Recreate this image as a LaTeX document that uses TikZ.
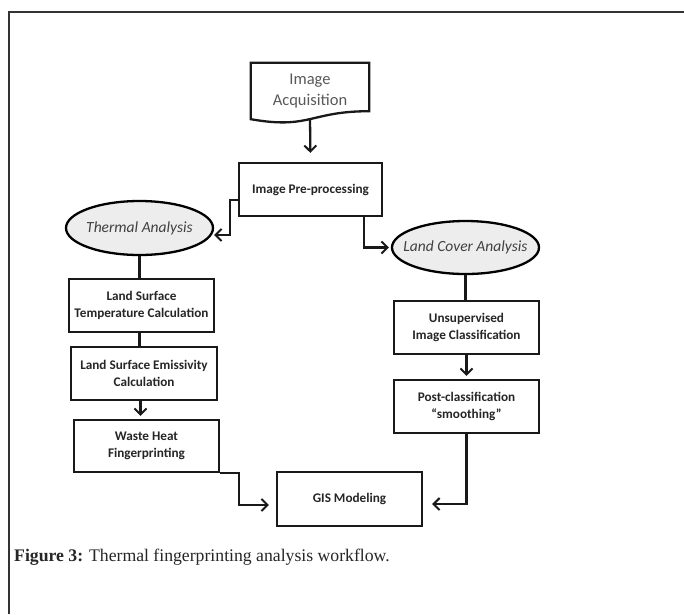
\documentclass[tikz,border=0pt]{standalone}
\usepackage{fontspec}
\setmainfont{Liberation Serif}
\newfontfamily\carl{Carlito}
\usetikzlibrary{arrows.meta,shapes.geometric}
\begin{document}
\begin{tikzpicture}[x=1pt,y=-1pt,
  ln/.style={line width=2.3pt,black!90},
  arr/.style={ln,-{Straight Barb[length=6pt,width=12pt,line width=2pt]}},
  box/.style={draw,line width=2.3pt,black!90,rectangle,minimum width=145pt,minimum height=53pt,inner sep=0pt,
    align=center,font=\carl\bfseries\fontsize{13.2}{17}\selectfont,text=black!85},
  oval/.style={draw,line width=2.3pt,ellipse,fill=black!7,minimum width=147pt,minimum height=53pt,inner sep=0pt,
    font=\carl\itshape\fontsize{15.5}{18}\selectfont,text=black!75}]
\useasboundingbox (0,0) rectangle (684,614);
\fill[white] (0,0) rectangle (684,614);
\draw[line width=1.5pt,black!80] (9,614) -- (9,12) -- (684,12);

\node[minimum width=118pt,minimum height=56pt,inner sep=0pt,align=center,
  font=\carl\fontsize{16.5}{21}\selectfont,text=black!65] (acq) at (310,91) {Image\\Acquisition};
\draw[ln] (acq.north west) -- (acq.north east) -- ([yshift=8pt]acq.south east)
  .. controls ([yshift=8pt]acq.south) and ([yshift=-10.4pt]acq.south) .. (acq.south west) -- cycle;

\node[box,minimum width=143pt] (pre) at (310.5,189.5) {Image Pre-processing};
\node[oval,minimum height=54pt] (therm) at (139.5,228) {\makebox[0pt]{Thermal Analysis}};
\node[oval] (land) at (465.5,247.5) {\makebox[0pt]{Land Cover Analysis}};
\node[box] (lst) at (141.5,305.5) {Land Surface\\Temperature Calculation};
\node[box,minimum width=146pt] (lse) at (144,373.5) {Land Surface Emissivity\\Calculation};
\node[box,minimum height=52pt] (waste) at (146.5,446) {Waste Heat\\Fingerprinting};
\node[box] (unsup) at (466.5,327.5) {Unsupervised\\Image Classification};
\node[box] (post) at (466.5,406.5) {Post-classification\\“smoothing”};
\node[box,minimum height=54pt] (gis) at (349.5,499) {GIS Modeling};

\draw[arr,shorten >=9pt] (acq.south) -- (pre.north);
\draw[arr] ([yshift=-10.5pt]pre.west) -- ++(-8pt,0) |- ([yshift=-7pt]therm.east);
\draw[arr,shorten >=2pt] ([xshift=-19pt]pre.south east) |- (land.west);
\draw[ln] (therm.south) -- (therm.south |- lst.north);
\draw[ln] (therm.south |- lst.south) -- (therm.south |- lse.north);
\draw[arr,shorten >=3pt] ([xshift=1pt]therm.south |- lse.south) -- ([xshift=1pt]therm.south |- waste.north);
\draw[arr,shorten >=7pt] (waste.south east) -- ++(19pt,0) |- ([yshift=-6pt]gis.west);
\draw[ln] (land.south) -- (land.south |- unsup.north);
\draw[arr,shorten >=3pt] (unsup.south) -- (post.north);
\draw[arr,shorten >=9pt] (post.south) |- ([yshift=-5pt]gis.east);

\node[anchor=west,inner sep=0pt,font=\fontsize{17.7}{20}\selectfont,text=black!85] (cap) at (14,557)
  {\textbf{Figure 3:} Thermal fingerprinting analysis workflow.};
\end{tikzpicture}
\end{document}
